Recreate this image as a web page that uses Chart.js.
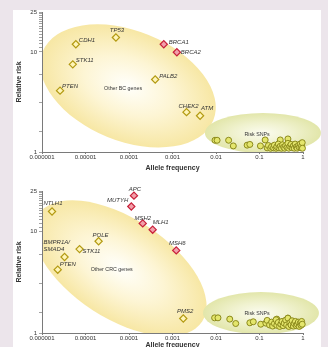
<!DOCTYPE html>
<html>
<head>
<meta charset="utf-8">
<script src="https://cdn.jsdelivr.net/npm/chart.js@4.4.1/dist/chart.umd.min.js"></script>
<style>
  html, body { margin: 0; padding: 0; }
  body { width: 328px; height: 347px; overflow: hidden; background: #ece5eb; position: relative; }
  #sheet { position: absolute; left: 13px; top: 10px; width: 308px; height: 337px; background: #fff; }
  canvas { position: absolute; left: 0; }
  #bc { top: 0; }
  #crc { top: 172px; }
</style>
</head>
<body>
<div id="sheet"></div>
<canvas id="bc" width="328" height="172"></canvas>
<canvas id="crc" width="328" height="177"></canvas>
<script>
// Axis ticks
const X_TICKS = [0.000001, 0.00001, 0.0001, 0.001, 0.01, 0.1, 1];
const X_TICK_LABELS = ['0.000001', '0.00001', '0.0001', '0.001', '0.01', '0.1', '1'];
const Y_MAJOR = [1, 10, 25];
const Y_MINOR = [1.6, 3.1, 5.9, 11, 12, 13, 14, 15, 16, 17, 18, 19, 20, 21, 22, 23, 24];

// Breast cancer panel
const BC_GENES = ['CDH1', 'TP53', 'STK11', 'PTEN', 'PALB2', 'CHEK2', 'ATM'];
const BC_FREQ = [6.0e-6, 5.0e-5, 5.1e-6, 2.6e-6, 4.0e-4, 2.1e-3, 4.3e-3];
const BC_RISK = [11.9, 13.9, 7.5, 4.1, 5.3, 2.5, 2.3];
const BC_HIGH_GENES = ['BRCA1', 'BRCA2'];
const BC_HIGH_FREQ = [6.3e-4, 1.26e-3];
const BC_HIGH_RISK = [11.9, 9.9];
const BC_SNP_FREQ = [0.0095, 0.0106, 0.0195, 0.025, 0.052, 0.06, 0.105, 0.135, 0.3, 0.45,
  0.15, 0.16, 0.18, 0.19, 0.21, 0.22, 0.24, 0.25, 0.27, 0.28, 0.3, 0.32, 0.34, 0.36, 0.38,
  0.4, 0.43, 0.45, 0.47, 0.5, 0.53, 0.56, 0.6, 0.63, 0.66, 0.7, 0.74, 0.78, 0.82, 0.86, 0.9, 0.93, 0.96, 0.97];
const BC_SNP_RISK = [1.31, 1.31, 1.31, 1.15, 1.17, 1.19, 1.15, 1.32, 1.32, 1.35,
  1.1, 1.16, 1.09, 1.13, 1.1, 1.17, 1.09, 1.13, 1.2, 1.1, 1.14, 1.09, 1.18, 1.12, 1.09,
  1.16, 1.11, 1.22, 1.09, 1.14, 1.19, 1.1, 1.15, 1.09, 1.2, 1.12, 1.09, 1.16, 1.11, 1.2, 1.1, 1.15, 1.24, 1.09];

// Colorectal cancer panel
const CRC_GENES = ['NTLH1', 'POLE', 'STK11', 'BMPR1A/\nSMAD4', 'PTEN', 'PMS2'];
const CRC_FREQ = [1.7e-6, 2.0e-5, 7.3e-6, 3.3e-6, 2.3e-6, 1.77e-3];
const CRC_RISK = [15.7, 8.0, 6.7, 5.6, 4.2, 1.39];
const CRC_HIGH_GENES = ['APC', 'MUTYH', 'MSH2', 'MLH1', 'MSH6'];
const CRC_HIGH_FREQ = [1.3e-4, 1.13e-4, 2.07e-4, 3.5e-4, 1.22e-3];
const CRC_HIGH_RISK = [22.5, 17.6, 12.0, 10.4, 6.5];
const CRC_SNP_FREQ = [0.0093, 0.0111, 0.0207, 0.0284, 0.06, 0.072, 0.107, 0.25, 0.45,
  0.14, 0.15, 0.17, 0.19, 0.2, 0.22, 0.24, 0.25, 0.27, 0.29, 0.31, 0.33, 0.35, 0.37, 0.4,
  0.42, 0.45, 0.47, 0.5, 0.53, 0.56, 0.6, 0.63, 0.67, 0.7, 0.74, 0.78, 0.82, 0.86, 0.9, 0.93, 0.96];
const CRC_SNP_RISK = [1.41, 1.41, 1.37, 1.24, 1.26, 1.29, 1.22, 1.37, 1.4,
  1.25, 1.33, 1.2, 1.28, 1.17, 1.24, 1.35, 1.19, 1.27, 1.16, 1.22, 1.3, 1.18, 1.25, 1.34,
  1.2, 1.4, 1.16, 1.26, 1.2, 1.32, 1.17, 1.24, 1.3, 1.18, 1.22, 1.28, 1.16, 1.25, 1.19, 1.3, 1.22];

// Label placement (pixel offsets from the marker)
const BC_LABEL_POS = {
  CDH1: [3, -4, 'left'], TP53: [1, -7, 'center'], STK11: [3, -4, 'left'], PTEN: [2, -4, 'left'],
  PALB2: [4, -3, 'left'], BRCA1: [5, -2, 'left'], BRCA2: [4, 0, 'left'],
  CHEK2: [2, -6, 'center'], ATM: [1, -7, 'left']
};
const CRC_LABEL_POS = {
  NTLH1: [1, -8, 'center'], APC: [1, -6, 'center'], MUTYH: [-3, -6, 'right'], MSH2: [0, -5, 'center'],
  MLH1: [0, -7, 'left'], POLE: [2, -6, 'center'], STK11: [3, 2, 'left'],
  'BMPR1A/\nSMAD4': [-21, -15, 'left'], PTEN: [2, -5, 'left'], MSH6: [1, -7, 'center'], PMS2: [2, -7, 'center']
};

const BIG_FILL = ['#fffffb', '#fdf5d4', '#f7e7a4'];
const SNP_FILL = ['#fbfcf0', '#f0f2cf', '#e2e6aa'];

const BC_REGIONS = [
  { x: 9.5e-5, y: 4.57, rx: 92, ry: 55, angle: 22, fill: BIG_FILL, text: 'Other BC genes', tx: 7.3e-5, ty: 4.27 },
  { x: 0.12, y: 1.55, rx: 58, ry: 20, angle: 0, fill: SNP_FILL, text: 'Risk SNPs', tx: 0.088, ty: 1.5 }
];
const CRC_REGIONS = [
  { x: 6.2e-5, y: 4.34, rx: 98, ry: 50, angle: 33, fill: BIG_FILL, text: 'Other CRC genes', tx: 4.0e-5, ty: 4.24 },
  { x: 0.108, y: 1.57, rx: 58, ry: 21, angle: 0, fill: SNP_FILL, text: 'Risk SNPs', tx: 0.088, ty: 1.57 }
];

const zip = (xs, ys) => xs.map((x, i) => ({ x: x, y: ys[i] }));

// Shaded ellipses, drawn before the axes so they sit underneath
const regionPlugin = {
  id: 'regions',
  beforeDraw(chart, args, opts) {
    const { ctx, chartArea, scales } = chart;
    ctx.save();
    ctx.beginPath();
    ctx.rect(chartArea.left, 0, chart.width - chartArea.left, chartArea.bottom);
    ctx.clip();
    opts.list.forEach(r => {
      const cx = scales.x.getPixelForValue(r.x);
      const cy = scales.y.getPixelForValue(r.y);
      ctx.save();
      ctx.translate(cx, cy);
      ctx.rotate(r.angle * Math.PI / 180);
      ctx.scale(1, r.ry / r.rx);
      const g = ctx.createRadialGradient(0, 0, 0, 0, 0, r.rx);
      g.addColorStop(0, r.fill[0]);
      g.addColorStop(0.5, r.fill[1]);
      g.addColorStop(1, r.fill[2]);
      ctx.fillStyle = g;
      ctx.beginPath();
      ctx.arc(0, 0, r.rx, 0, Math.PI * 2);
      ctx.fill();
      ctx.restore();
    });
    ctx.fillStyle = '#333';
    ctx.font = '5.3px "Liberation Sans", Arial, sans-serif';
    ctx.textAlign = 'center';
    ctx.textBaseline = 'middle';
    opts.list.forEach(r => {
      ctx.fillText(r.text, scales.x.getPixelForValue(r.tx), scales.y.getPixelForValue(r.ty));
    });
    ctx.restore();
  }
};

// Gene names next to the markers
const geneLabelPlugin = {
  id: 'geneLabels',
  afterDatasetsDraw(chart, args, opts) {
    const { ctx } = chart;
    ctx.save();
    ctx.fillStyle = '#333';
    ctx.font = 'italic 6px "Liberation Sans", Arial, sans-serif';
    ctx.textBaseline = 'middle';
    chart.data.datasets.forEach((ds, i) => {
      if (!ds.names) return;
      chart.getDatasetMeta(i).data.forEach((pt, j) => {
        const name = ds.names[j];
        const p = opts.pos[name] || [4, 0, 'left'];
        ctx.textAlign = p[2];
        name.split('\n').forEach((line, k) => {
          ctx.fillText(line, pt.x + p[0], pt.y + p[1] + k * 7);
        });
      });
    });
    ctx.restore();
  }
};

function makeChart(id, d) {
  const ctx = document.getElementById(id).getContext('2d');
  return new Chart(ctx, {
    type: 'scatter',
    data: {
      datasets: [{
        data: zip(d.snpFreq, d.snpRisk),
        pointStyle: 'circle',
        pointRadius: 3,
        backgroundColor: '#e4e66c',
        borderColor: '#8c8a1c',
        borderWidth: 1,
        clip: false
      }, {
        data: zip(d.freq, d.risk),
        names: d.genes,
        pointStyle: 'rectRot',
        pointRadius: 3.6,
        backgroundColor: '#fff5b8',
        borderColor: '#b39a12',
        borderWidth: 1.2,
        clip: false
      }, {
        data: zip(d.highFreq, d.highRisk),
        names: d.highGenes,
        pointStyle: 'rectRot',
        pointRadius: 3.6,
        backgroundColor: '#f2a0aa',
        borderColor: '#c8203a',
        borderWidth: 1.2,
        clip: false
      }]
    },
    options: {
      responsive: false,
      animation: false,
      layout: { padding: { left: 13, right: 25, top: d.padTop, bottom: 0 } },
      plugins: {
        legend: { display: false },
        tooltip: { enabled: false },
        regions: { list: d.regions },
        geneLabels: { pos: d.labelPos }
      },
      scales: {
        x: {
          type: 'logarithmic',
          min: 0.000001,
          max: 1,
          afterBuildTicks: s => { s.ticks = X_TICKS.map(v => ({ value: v })); },
          afterFit: s => { s.height = d.xAxisHeight; },
          border: { color: '#7a7a7a', width: 1 },
          grid: { drawOnChartArea: false, tickLength: 2, color: '#7a7a7a' },
          ticks: {
            autoSkip: false,
            maxRotation: 0,
            padding: 0,
            color: '#333',
            font: { family: '"Liberation Sans", Arial, sans-serif', size: 6 },
            callback: (v, i) => X_TICK_LABELS[i]
          },
          title: {
            display: true,
            text: 'Allele frequency',
            color: '#333',
            padding: { top: 3, bottom: 0 },
            font: { family: '"Liberation Sans", Arial, sans-serif', size: 7, weight: 'bold' }
          }
        },
        y: {
          type: 'logarithmic',
          min: 1,
          max: 25,
          afterBuildTicks: s => {
            s.ticks = Y_MAJOR.concat(Y_MINOR).sort((a, b) => a - b).map(v => ({ value: v }));
          },
          afterFit: s => { s.width = 29; },
          border: { color: '#7a7a7a', width: 1 },
          grid: { drawOnChartArea: false, tickLength: 3, color: '#7a7a7a', lineWidth: 0.7 },
          ticks: {
            autoSkip: false,
            padding: 2,
            color: '#333',
            font: { family: '"Liberation Sans", Arial, sans-serif', size: 6 },
            callback: v => Y_MAJOR.includes(v) ? String(v) : ''
          },
          title: {
            display: true,
            text: 'Relative risk',
            color: '#333',
            padding: { top: 2, bottom: 0 },
            font: { family: '"Liberation Sans", Arial, sans-serif', size: 7, weight: 'bold' }
          }
        }
      }
    },
    plugins: [regionPlugin, geneLabelPlugin]
  });
}

makeChart('bc', {
  genes: BC_GENES, freq: BC_FREQ, risk: BC_RISK,
  highGenes: BC_HIGH_GENES, highFreq: BC_HIGH_FREQ, highRisk: BC_HIGH_RISK,
  snpFreq: BC_SNP_FREQ, snpRisk: BC_SNP_RISK,
  regions: BC_REGIONS, labelPos: BC_LABEL_POS, padTop: 12, xAxisHeight: 20
});

makeChart('crc', {
  genes: CRC_GENES, freq: CRC_FREQ, risk: CRC_RISK,
  highGenes: CRC_HIGH_GENES, highFreq: CRC_HIGH_FREQ, highRisk: CRC_HIGH_RISK,
  snpFreq: CRC_SNP_FREQ, snpRisk: CRC_SNP_RISK,
  regions: CRC_REGIONS, labelPos: CRC_LABEL_POS, padTop: 19, xAxisHeight: 16
});
</script>
</body>
</html>
